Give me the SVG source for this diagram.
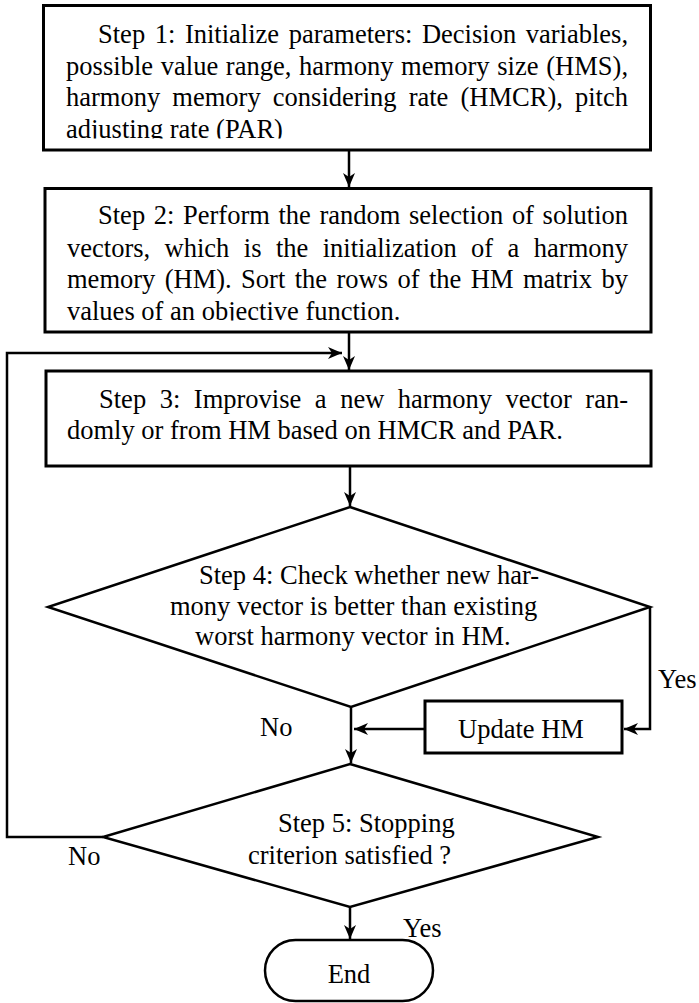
<svg xmlns="http://www.w3.org/2000/svg" width="699" height="1003" viewBox="0 0 699 1003">
<style>
  .box { fill: #fff; stroke: #000; stroke-width: 3; }
  .shape { fill: #fff; stroke: #000; stroke-width: 2.5; stroke-linejoin: miter; }
  .conn { fill: none; stroke: #000; stroke-width: 2.5; }
  text { font-family: "Liberation Serif", "Times New Roman", serif; font-size: 26.5px; fill: #000; }
</style>
<defs>
  <marker id="arrow" markerUnits="userSpaceOnUse" viewBox="0 0 14 12" refX="14" refY="6" markerWidth="14" markerHeight="12" orient="auto">
    <path d="M0,0 L14,6 L0,12 L4,6 Z" fill="#000"/>
  </marker>
  <clipPath id="clip1"><rect x="43" y="5" width="607" height="133.5"/></clipPath>
  <clipPath id="clip2"><rect x="45" y="188" width="606" height="132.5"/></clipPath>
</defs>
<rect width="699" height="1003" fill="#fff"/>

<g id="connectors">
  <path class="conn" d="M349,150 V187" marker-end="url(#arrow)"/>
  <path class="conn" d="M349,332 V370" marker-end="url(#arrow)"/>
  <path class="conn" d="M103,837 H7 V353 H342" marker-end="url(#arrow)"/>
  <path class="conn" d="M350,466 V506" marker-end="url(#arrow)"/>
  <path class="conn" d="M351,707 V763" marker-end="url(#arrow)"/>
  <path class="conn" d="M650,607 V729 H624" marker-end="url(#arrow)"/>
  <path class="conn" d="M425,729 H354" marker-end="url(#arrow)"/>
  <path class="conn" d="M350,907 V939" marker-end="url(#arrow)"/>
</g>

<g id="step1">
  <rect class="box" x="43.5" y="5.5" width="607" height="144.5"/>
  <g clip-path="url(#clip1)">
    <text x="98" y="43" word-spacing="2.96" textLength="530" lengthAdjust="spacing">Step 1: Initialize parameters: Decision variables,</text>
    <text x="66" y="74.5" word-spacing="1" textLength="562" lengthAdjust="spacing">possible value range, harmony memory size (HMS),</text>
    <text x="66" y="106" word-spacing="5.5" textLength="562" lengthAdjust="spacing">harmony memory considering rate (HMCR), pitch</text>
    <text x="66" y="137.5">adjusting rate (PAR)</text>
  </g>
</g>

<g id="step2">
  <rect class="box" x="45" y="188.5" width="606" height="143.5"/>
  <g clip-path="url(#clip2)">
    <text x="98" y="224" word-spacing="2" textLength="530" lengthAdjust="spacing">Step 2: Perform the random selection of solution</text>
    <text x="67" y="256.5" word-spacing="7.8" textLength="561" lengthAdjust="spacing">vectors, which is the initialization of a harmony</text>
    <text x="67" y="288" word-spacing="2.8" textLength="561" lengthAdjust="spacing">memory (HM). Sort the rows of the HM matrix by</text>
    <text x="67" y="319.5">values of an objective function.</text>
  </g>
</g>

<g id="step3">
  <rect class="box" x="46" y="371" width="605" height="95"/>
  <text x="99" y="408" word-spacing="6.9" textLength="529" lengthAdjust="spacing">Step 3: Improvise a new harmony vector ran-</text>
  <text x="67" y="438.5">domly or from HM based on HMCR and PAR.</text>
</g>

<g id="step4">
  <polygon class="shape" points="350,507 650,607 351,707 48,607"/>
  <text x="199" y="584">Step 4: Check whether new har-</text>
  <text x="170" y="614.5">mony vector is better than existing</text>
  <text x="195" y="645">worst harmony vector in HM.</text>
</g>

<g id="update">
  <rect class="box" x="425" y="701" width="197" height="52"/>
  <text x="521" y="738" text-anchor="middle">Update HM</text>
</g>

<g id="step5">
  <polygon class="shape" points="350,764 598,837 350,907 103,837"/>
  <text x="278" y="832">Step 5: Stopping</text>
  <text x="248" y="864">criterion satisfied ?</text>
</g>

<g id="end">
  <rect class="shape" x="265" y="940" width="168" height="61" rx="30.5" ry="30.5"/>
  <text x="349" y="983" text-anchor="middle">End</text>
</g>

<g id="labels">
  <text x="658" y="688">Yes</text>
  <text x="260" y="736">No</text>
  <text x="68" y="865">No</text>
  <text x="403" y="937">Yes</text>
</g>
</svg>
